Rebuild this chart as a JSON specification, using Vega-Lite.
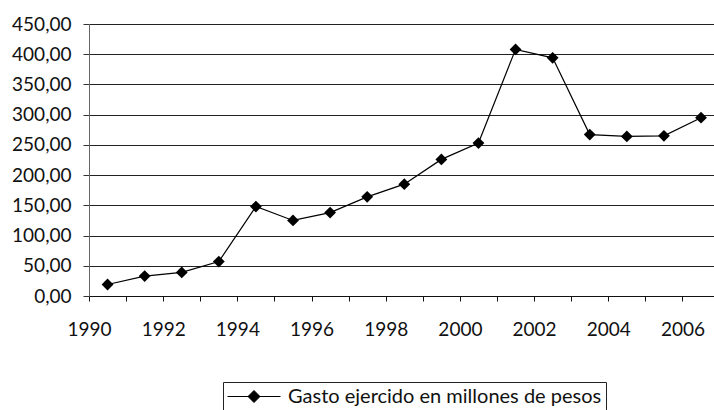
{
  "$schema": "https://vega.github.io/schema/vega-lite/v6.json",
  "width": 625,
  "height": 272,
  "autosize": {"type": "none"},
  "padding": {"left": 89, "top": 24, "right": 0, "bottom": 114},
  "background": "white",
  "config": {
    "view": {"stroke": null},
    "font": "Lato"
  },
  "data": {
    "values": [
      {"anio": 1990, "gasto": 19},
      {"anio": 1991, "gasto": 33},
      {"anio": 1992, "gasto": 39},
      {"anio": 1993, "gasto": 57},
      {"anio": 1994, "gasto": 148},
      {"anio": 1995, "gasto": 125},
      {"anio": 1996, "gasto": 138},
      {"anio": 1997, "gasto": 164},
      {"anio": 1998, "gasto": 185},
      {"anio": 1999, "gasto": 226},
      {"anio": 2000, "gasto": 253},
      {"anio": 2001, "gasto": 408},
      {"anio": 2002, "gasto": 394},
      {"anio": 2003, "gasto": 267},
      {"anio": 2004, "gasto": 264},
      {"anio": 2005, "gasto": 265},
      {"anio": 2006, "gasto": 295}
    ]
  },
  "encoding": {
    "x": {
      "field": "anio",
      "type": "quantitative",
      "scale": {"domain": [1990, 2006.85], "nice": false, "zero": false},
      "axis": {
        "title": null,
        "values": [1990, 1991, 1992, 1993, 1994, 1995, 1996, 1997, 1998, 1999, 2000, 2001, 2002, 2003, 2004, 2005, 2006],
        "labelExpr": "datum.value % 2 == 0 ? format(datum.value, 'd') : ''",
        "grid": false,
        "domainColor": "#111",
        "domainWidth": 1.2,
        "tickColor": "#111",
        "tickSize": 5,
        "labelPadding": 19,
        "labelDx": -8,
        "labelFont": "Lato",
        "labelFontSize": 19,
        "labelColor": "#111",
        "labelFlush": false,
        "labelOverlap": false
      }
    },
    "y": {
      "field": "gasto",
      "type": "quantitative",
      "scale": {"domain": [0, 450], "nice": false},
      "axis": {
        "title": null,
        "values": [0, 50, 100, 150, 200, 250, 300, 350, 400, 450],
        "labelExpr": "replace(format(datum.value, '.2f'), '.', ',')",
        "grid": true,
        "gridColor": "#222",
        "gridWidth": 1,
        "gridOpacity": 1,
        "domainColor": "#666",
        "domainWidth": 1,
        "tickColor": "#333",
        "tickSize": 6,
        "labelPadding": 12,
        "labelFont": "Lato",
        "labelFontSize": 19,
        "labelColor": "#111"
      }
    },
    "color": {
      "datum": "Gasto ejercido en millones de pesos",
      "type": "nominal",
      "scale": {"range": ["black"]},
      "legend": {
        "title": null,
        "orient": "none",
        "legendX": 134,
        "legendY": 358,
        "strokeColor": "#222",
        "fillColor": "white",
        "padding": 4,
        "symbolType": "M-1,0L4.3,0M1.65,-0.6L2.25,0L1.65,0.6L1.05,0Z",
        "symbolSize": 400,
        "symbolStrokeWidth": 1,
        "symbolFillColor": "black",
        "symbolStrokeColor": "black",
        "labelFont": "Lato",
        "labelFontSize": 20,
        "labelColor": "#111",
        "labelOffset": 40,
        "labelLimit": 500,
        "encode": {
          "symbols": {
            "update": {
              "fill": {"value": "black"},
              "stroke": {"value": "black"},
              "strokeWidth": {"value": 1},
              "shape": {"value": "M-1,0L4.3,0M1.65,-0.6L2.25,0L1.65,0.6L1.05,0Z"},
              "size": {"value": 400},
              "opacity": {"value": 1},
              "strokeOpacity": {"value": 1}
            }
          }
        }
      }
    }
  },
  "layer": [
    {
      "mark": {"type": "line", "xOffset": 18.55, "strokeWidth": 1.2, "color": "#111"}
    },
    {
      "mark": {"type": "point", "xOffset": 18.55, "shape": "diamond", "filled": true, "size": 140, "opacity": 1, "color": "black"}
    }
  ]
}
